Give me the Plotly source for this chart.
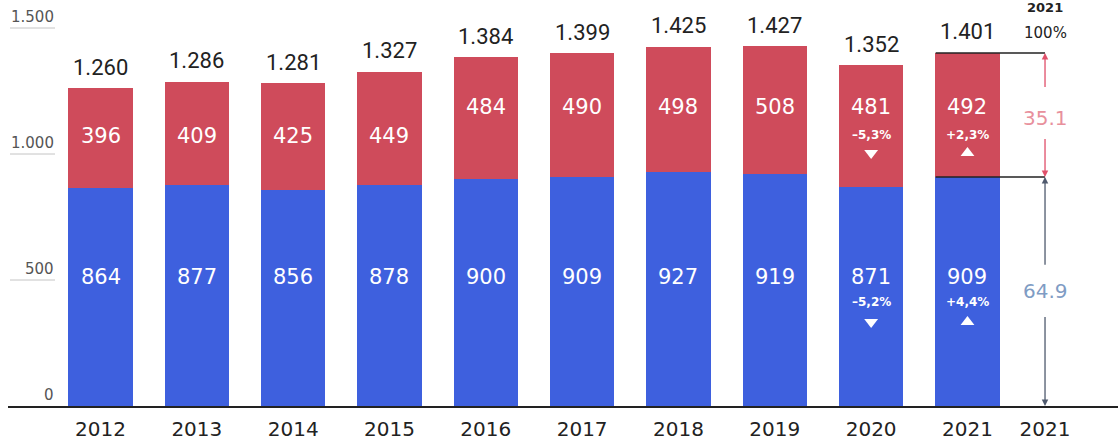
import plotly.graph_objects as go

years = ["2012", "2013", "2014", "2015", "2016", "2017", "2018", "2019", "2020", "2021"]
blue_vals = [864, 877, 856, 878, 900, 909, 927, 919, 871, 909]
red_vals = [396, 409, 425, 449, 484, 490, 498, 508, 481, 492]
totals = [1260, 1286, 1281, 1327, 1384, 1399, 1425, 1427, 1352, 1401]
red_change = {"2020": ("–5,3%", "down"), "2021": ("+2,3%", "up")}
blue_change = {"2020": ("–5,2%", "down"), "2021": ("+4,4%", "up")}
share_year = "2021"
share_red = "35.1"
share_blue = "64.9"
y_ticks = [0, 500, 1000, 1500]

RED = "#cf4b5b"
BLUE = "#3e60de"
W, H = 1118, 444
ML, MB = 8, 38
PX_PER_CAT = 96.33
X0 = -(100.5 - ML) / PX_PER_CAT
X1 = X0 + (W - ML) / PX_PER_CAT
Y1 = 406 / 0.252
EXTRA_X = 9.805


def fmt(v):
    return f"{v:,}".replace(",", ".")


xs = list(range(len(years)))
fig = go.Figure()
fig.add_bar(x=xs, y=blue_vals, marker=dict(color=BLUE, line=dict(width=0)), width=0.67, hoverinfo="skip")
fig.add_bar(x=xs, y=red_vals, marker=dict(color=RED, line=dict(width=0)), width=0.67, hoverinfo="skip")

ann = []
# totals above bars
for i, t in enumerate(totals):
    ann.append(dict(x=i, y=t, text=fmt(t), showarrow=False, yanchor="middle", yshift=21,
                    font=dict(family="Roboto", size=22, color="#222")))

# inside labels
RED_LOW_Y, RED_HIGH_Y = 1071, 1187
BLUE_Y = 512
for i, y in enumerate(years):
    ry = RED_LOW_Y if i < 4 else RED_HIGH_Y
    ann.append(dict(x=i, y=ry, text=str(red_vals[i]), showarrow=False,
                    font=dict(family="DejaVu Sans", size=21, color="white")))
    ann.append(dict(x=i, y=BLUE_Y, text=str(blue_vals[i]), showarrow=False,
                    font=dict(family="DejaVu Sans", size=21, color="white")))

tri_x, tri_y, tri_sym = [], [], []
for i, y in enumerate(years):
    if y in red_change:
        txt, d = red_change[y]
        ann.append(dict(x=i, y=RED_HIGH_Y, yshift=-28, text="<b>" + txt + "</b>", showarrow=False,
                        font=dict(family="DejaVu Sans", size=12, color="white")))
        tri_x.append(i); tri_y.append(1004); tri_sym.append("triangle-" + d)
    if y in blue_change:
        txt, d = blue_change[y]
        ann.append(dict(x=i, y=BLUE_Y, yshift=-25, text="<b>" + txt + "</b>", showarrow=False,
                        font=dict(family="DejaVu Sans", size=12, color="white")))
        tri_x.append(i); tri_y.append(333); tri_sym.append("triangle-" + d)

fig.add_scatter(x=tri_x, y=tri_y, mode="markers", hoverinfo="skip",
                marker=dict(symbol=tri_sym, size=12, color="white", line=dict(width=0)))

# y tick labels and underline marks
for v in y_ticks:
    ann.append(dict(x=(56 - ML) / (W - ML), xref="paper", y=v, xanchor="right", yanchor="bottom",
                    yshift=0, text=fmt(v), showarrow=False,
                    font=dict(family="DejaVu Sans", size=15, color="#555")))
shapes = []
for v in y_ticks[1:]:
    shapes.append(dict(type="line", xref="paper", yref="y", x0=(10 - ML) / (W - ML), x1=(55 - ML) / (W - ML),
                       y0=v, y1=v, line=dict(color="#c4c4c4", width=1)))

# right-side share bracket
last = len(years) - 1
b_last, t_last = blue_vals[last], totals[last]
for yv in (t_last, b_last):
    shapes.append(dict(type="line", xref="x", yref="y", x0=last - 0.33, x1=EXTRA_X, y0=yv, y1=yv,
                       line=dict(color="#222", width=1.5)))

RED_LINE = "#e0506a"
GREY_LINE = "#4f5a6e"
mid_red = (t_last + b_last) / 2
mid_blue = b_last / 2
arrows = [
    (t_last, mid_red + 105, RED_LINE),
    (b_last, mid_red - 90, RED_LINE),
    (b_last, mid_blue + 100, GREY_LINE),
    (0, mid_blue - 95, GREY_LINE),
]
for head, tail, col in arrows:
    ann.append(dict(x=EXTRA_X, y=head, ax=EXTRA_X, ay=tail, xref="x", yref="y", axref="x", ayref="y",
                    text="", showarrow=True, arrowhead=2, arrowsize=1, arrowwidth=1.3, arrowcolor=col))

ann.append(dict(x=EXTRA_X, y=mid_red, yshift=-3, text=share_red, showarrow=False,
                font=dict(family="DejaVu Sans", size=20, color="#e8909c")))
ann.append(dict(x=EXTRA_X, y=mid_blue, text=share_blue, showarrow=False,
                font=dict(family="DejaVu Sans", size=20, color="#7f9cc4")))
ann.append(dict(x=EXTRA_X, y=t_last, yshift=20, text="100%", showarrow=False,
                font=dict(family="DejaVu Sans", size=15, color="#222")))
ann.append(dict(x=EXTRA_X, y=1, yref="paper", yanchor="top", yshift=2, text="<b>" + share_year + "</b>",
                showarrow=False, font=dict(family="DejaVu Sans", size=13, color="#222")))

fig.update_layout(
    width=W, height=H,
    margin=dict(l=ML, r=0, t=0, b=MB),
    barmode="stack",
    plot_bgcolor="white", paper_bgcolor="white",
    showlegend=False,
    annotations=ann,
    shapes=shapes,
    xaxis=dict(range=[X0, X1], tickmode="array", tickvals=xs + [EXTRA_X], ticktext=years + [share_year],
               showgrid=False, zeroline=False, showline=True, linecolor="#222", linewidth=1.5,
               ticks="", ticklabelstandoff=4,
               tickfont=dict(family="DejaVu Sans", size=20, color="#222"), fixedrange=True),
    yaxis=dict(range=[0, Y1], showgrid=False, zeroline=False, showticklabels=False, fixedrange=True),
)

fig.write_html("out.html", config={"displayModeBar": False})
